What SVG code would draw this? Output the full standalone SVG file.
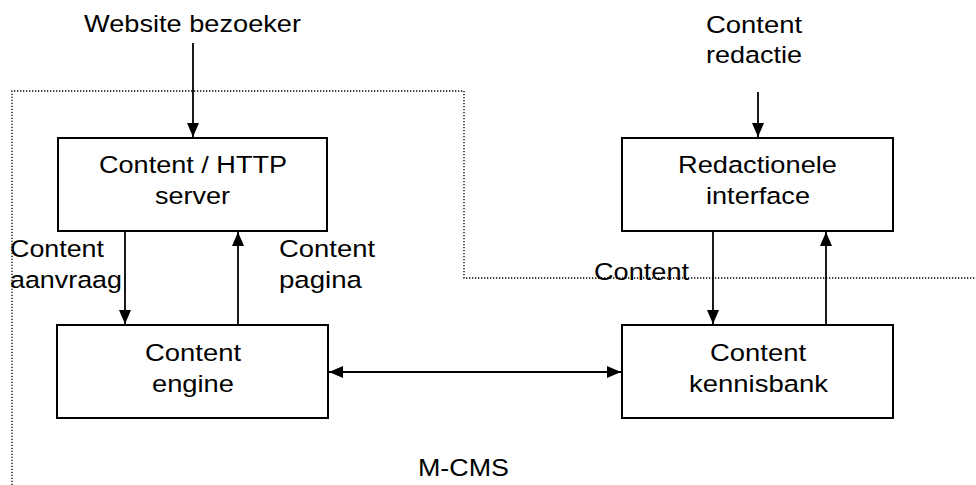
<svg xmlns="http://www.w3.org/2000/svg" width="976" height="485" viewBox="0 0 976 485">
  <defs>
    <style>
      .box { fill: #fff; stroke: #000; stroke-width: 2; }
      .lbl { font-family: "Liberation Sans", Arial, sans-serif; font-size: 24.5px; fill: #000; }
      .edge { fill: none; stroke: #000; stroke-width: 1.8; }
      .boundary { fill: none; stroke: #000; stroke-width: 1.3; stroke-dasharray: 1.3 1.7; }
    </style>
    <marker id="arrow" viewBox="0 0 14 12" markerWidth="14" markerHeight="12" refX="14" refY="6" markerUnits="userSpaceOnUse" orient="auto-start-reverse">
      <path d="M0,0 L14,6 L0,12 z" fill="#000"/>
    </marker>
  </defs>

  <rect width="976" height="485" fill="#fff"/>

  <!-- M-CMS system boundary -->
  <g id="boundary">
    <path class="boundary" d="M12,485 V91 H464 V278 H976"/>
    <text class="lbl" x="418" y="476" textLength="91" lengthAdjust="spacingAndGlyphs">M-CMS</text>
  </g>

  <!-- external actors -->
  <g id="website-bezoeker">
    <text class="lbl" x="84" y="32" textLength="217" lengthAdjust="spacingAndGlyphs">Website bezoeker</text>
  </g>
  <g id="content-redactie">
    <text class="lbl" x="706" y="33" textLength="96" lengthAdjust="spacingAndGlyphs">Content</text>
    <text class="lbl" x="706" y="63" textLength="96" lengthAdjust="spacingAndGlyphs">redactie</text>
  </g>

  <!-- components -->
  <g id="http-server">
    <rect class="box" x="58" y="138" width="269" height="93"/>
    <text class="lbl" x="99" y="173" textLength="188" lengthAdjust="spacingAndGlyphs">Content / HTTP</text>
    <text class="lbl" x="155" y="204" textLength="75" lengthAdjust="spacingAndGlyphs">server</text>
  </g>
  <g id="redactionele-interface">
    <rect class="box" x="622" y="138" width="271" height="93"/>
    <text class="lbl" x="678" y="173" textLength="159" lengthAdjust="spacingAndGlyphs">Redactionele</text>
    <text class="lbl" x="706" y="204" textLength="104" lengthAdjust="spacingAndGlyphs">interface</text>
  </g>
  <g id="content-engine">
    <rect class="box" x="57" y="325" width="271" height="93"/>
    <text class="lbl" x="145" y="361" textLength="96" lengthAdjust="spacingAndGlyphs">Content</text>
    <text class="lbl" x="152" y="392" textLength="82" lengthAdjust="spacingAndGlyphs">engine</text>
  </g>
  <g id="content-kennisbank">
    <rect class="box" x="622" y="325" width="271" height="93"/>
    <text class="lbl" x="710" y="361" textLength="96" lengthAdjust="spacingAndGlyphs">Content</text>
    <text class="lbl" x="689" y="392" textLength="139" lengthAdjust="spacingAndGlyphs">kennisbank</text>
  </g>

  <!-- connectors -->
  <g id="connectors">
    <line class="edge" x1="193" y1="43" x2="193" y2="137" marker-end="url(#arrow)"/>
    <line class="edge" x1="758" y1="92" x2="758" y2="137" marker-end="url(#arrow)"/>
    <line class="edge" x1="125" y1="232" x2="125" y2="324" marker-end="url(#arrow)"/>
    <line class="edge" x1="238" y1="324" x2="238" y2="232" marker-end="url(#arrow)"/>
    <line class="edge" x1="713" y1="232" x2="713" y2="324" marker-end="url(#arrow)"/>
    <line class="edge" x1="826" y1="324" x2="826" y2="232" marker-end="url(#arrow)"/>
    <line class="edge" x1="329" y1="372" x2="621" y2="372" marker-start="url(#arrow)" marker-end="url(#arrow)"/>

    <text class="lbl" x="10" y="257" textLength="94" lengthAdjust="spacingAndGlyphs">Content</text>
    <text class="lbl" x="10" y="288" textLength="112" lengthAdjust="spacingAndGlyphs">aanvraag</text>
    <text class="lbl" x="279" y="257" textLength="96" lengthAdjust="spacingAndGlyphs">Content</text>
    <text class="lbl" x="279" y="288" textLength="83" lengthAdjust="spacingAndGlyphs">pagina</text>
    <text class="lbl" x="594" y="280" textLength="95" lengthAdjust="spacingAndGlyphs">Content</text>
  </g>
</svg>
